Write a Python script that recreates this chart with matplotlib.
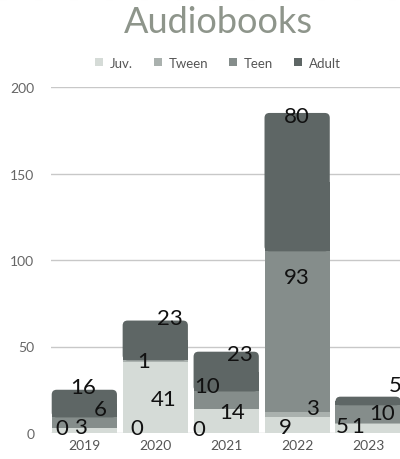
import numpy as np
import matplotlib.pyplot as plt
from matplotlib.patches import Patch, FancyBboxPatch
from matplotlib.lines import Line2D

years = ["2019", "2020", "2021", "2022", "2023"]
series = ["Juv.", "Tween", "Teen", "Adult"]
juv = [3, 41, 14, 9, 5]
tween = [0, 1, 0, 3, 1]
teen = [6, 0, 10, 93, 10]
adult = [16, 23, 23, 80, 5]

colors = ["#d5dbd7", "#aab1ae", "#858d8b", "#5e6665"]

# label nudges in pixels (dx, dy) relative to segment centre, per series / year
nudges = {
    0: [(-4, 3), (8, -1), (6, 9), (-12, -2), (-26, 3)],
    1: [(-23, 5), (-12, 0), (-27, 4), (15, 7), (-10, -3)],
    2: [(16, 14), (-18, 5), (-19, 14), (0, 55), (14, 1)],
    3: [(-1, 17), (15, 22), (14, 18), (0, 66), (27, 16)],
}

plt.rcParams['font.family'] = ['Lato', 'DejaVu Sans']

fig = plt.figure(figsize=(4, 4.6), dpi=100)
ax = fig.add_axes([51 / 400, 26 / 460, 349 / 400, 346 / 460])

x = np.arange(len(years))
width = 0.92
data = [juv, tween, teen, adult]
bottom = np.zeros(len(years))

for i, vals in enumerate(data):
    vals = np.array(vals, dtype=float)
    if i < 3:
        ax.bar(x, vals, width, bottom=bottom, color=colors[i], zorder=2)
    else:
        # top segment with rounded upper corners
        for j in range(len(years)):
            box = FancyBboxPatch((x[j] - width / 2, bottom[j]), width, vals[j],
                                 boxstyle="round,pad=0,rounding_size=0.07",
                                 mutation_aspect=41, fc=colors[i], ec='none', zorder=2)
            ax.add_patch(box)
            ax.bar(x[j], vals[j] / 2, width, bottom=bottom[j],
                   color=colors[i], zorder=2)
    for j in range(len(years)):
        yc = bottom[j] + vals[j] / 2 if vals[j] > 0 else 0
        dx, dy = nudges[i][j]
        ax.annotate(f"{int(vals[j])}", (x[j], yc), xytext=(dx, dy),
                    textcoords='offset pixels', ha='center', va='center',
                    fontsize=16, color='#111111', zorder=5)
    bottom += vals

ax.set_ylim(0, 200)
ax.set_xlim(-0.47, 4.45)
ax.set_yticks([0, 50, 100, 150, 200])
ax.set_xticks(x)
ax.set_xticklabels(years)
ax.yaxis.grid(True, color='#c8c8c8', linewidth=1, zorder=0)
ax.set_axisbelow(True)
for s in ax.spines.values():
    s.set_visible(False)
ax.tick_params(axis='y', length=0, pad=12, labelsize=10, labelcolor='#666666')
ax.tick_params(axis='x', length=0, pad=4, labelsize=10, labelcolor='#555555')

fig.text(0.545, 0.952, "Audiobooks", ha='center', va='center', fontsize=26,
         color='#8e958b')

handles = [Patch(facecolor=c, edgecolor='none') for c in colors]
fig.legend(handles, series, loc='center', bbox_to_anchor=(0.545, 0.861), ncol=4,
           frameon=False, fontsize=9.5, handlelength=0.6, handleheight=0.6,
           handletextpad=0.5, columnspacing=1.6, labelcolor='#555555')

fig.add_artist(Line2D([0, 1], [0.999, 0.999], transform=fig.transFigure,
                      color='#eeeeee', linewidth=1.5, linestyle=(0, (3, 14))))

fig.savefig("out.png", dpi=100)
